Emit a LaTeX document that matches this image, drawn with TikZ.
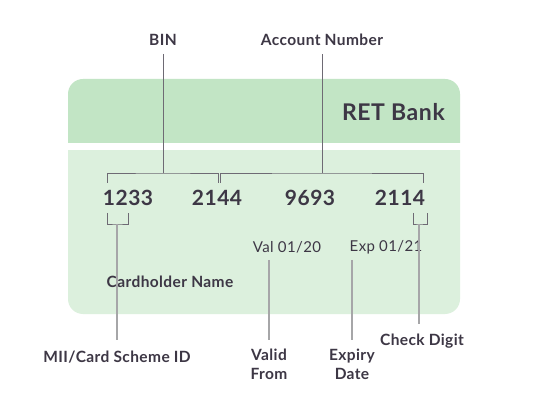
\documentclass[tikz,border=0pt]{standalone}
\usepackage{fontspec}
\setmainfont{Lato}[LetterSpace=2.5]
\definecolor{bandtop}{HTML}{C2E5C5}
\definecolor{bandlow}{HTML}{DCF0DD}
\definecolor{ink}{HTML}{3D3745}
\definecolor{guide}{HTML}{6E6A74}
\definecolor{guidelight}{HTML}{A6A6A8}
\begin{document}
\begin{tikzpicture}[x=1pt,y=-1pt,
  lbl/.style={text=ink,font=\fontsize{15.5}{19}\selectfont\bfseries,inner sep=0pt,align=center},
  num/.style={text=ink,font=\fontsize{21}{23}\selectfont\bfseries,inner sep=0pt},
  small/.style={text=ink,font=\fontsize{15}{17}\selectfont,inner sep=0pt},
  gl/.style={draw=guide,line width=0.9pt},
  gll/.style={draw=guidelight,line width=1.1pt}]
\useasboundingbox (0,0) rectangle (540,419);
\fill[white] (0,0) rectangle (540,419);
% card
\begin{scope}
\clip (0,0) rectangle (540,143);
\fill[bandtop,rounded corners=15pt] (68,79) rectangle (460,180);
\end{scope}
\begin{scope}
\clip (0,151) rectangle (540,419);
\fill[bandlow,rounded corners=15pt] (68,110) rectangle (460,314);
\end{scope}
% texts
\node[text=ink,font=\fontsize{23}{26}\selectfont\bfseries,inner sep=0pt,anchor=east] (bank) at (445,112) {RET Bank};
\node[lbl] (bin) at (163,40) {BIN};
\node[lbl] (acc) at (322,40) {Account Number};
\node[num] (n1) at (128,198) {1233};
\node[num] (n2) at (217,198) {2144};
\node[num] (n3) at (310,198) {9693};
\node[num] (n4) at (400,198) {2114};
\node[small] (val) at (287,247) {Val 01/20};
\node[small] (exp) at (386,247) {Exp 01/21};
\node[lbl] (name) at (170,282) {Cardholder Name};
\node[lbl] (mii) at (117,357) {MII/Card Scheme ID};
\node[lbl,anchor=north] (valid) at (269,349) {Valid\\From};
\node[lbl,anchor=north] (expiry) at (352,349) {Expiry\\Date};
\node[lbl] (check) at (422,341) {Check Digit};
% bracket coordinates
\coordinate (binL) at (107,183);
\coordinate (binR) at (218,183);
\coordinate (binM) at (163,173);
\coordinate (accL) at (220,183);
\coordinate (accR) at (423,183);
\coordinate (accM) at (322,173);
\coordinate (miiL) at (107,213);
\coordinate (miiR) at (128,213);
\coordinate (miiM) at (117,224);
\coordinate (chkL) at (413,213);
\coordinate (chkR) at (427,213);
\coordinate (chkM) at (419,224);
\coordinate (valT) at (269,260);
\coordinate (expT) at (352,260);
% guides
\draw[gl] (binL) |- (binM) -| (binR);
\draw[gl] (bin.south) ++(0,8) -- (binM);
\draw[gl] (accL) |- (accM) -| (accR);
\draw[gl] (acc.south) ++(0,8) -- (accM);
\draw[gl] (miiL) |- (miiM) -| (miiR);
\draw[gll] (miiM) -- (117,340);
\draw[gl] (chkL) |- (chkM) -| (chkR);
\draw[gll] (chkM) -- (419,324);
\draw[gll] (valT) -- (269,340);
\draw[gll] (expT) -- (352,340);
\end{tikzpicture}
\end{document}
